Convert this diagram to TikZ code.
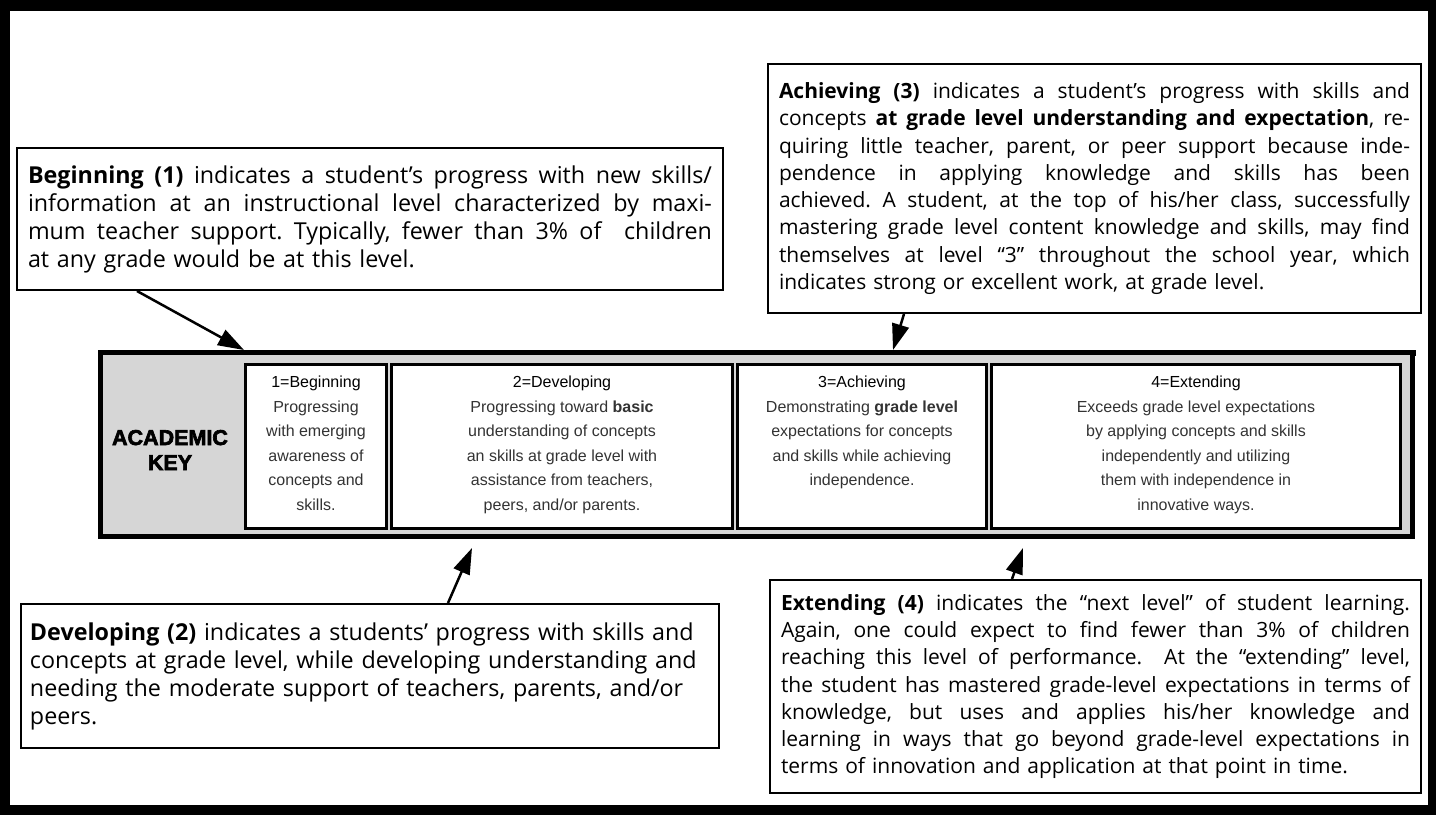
\documentclass[tikz,border=0pt]{standalone}
\usepackage{fontspec}
\setmainfont{Open Sans}
\newfontfamily\widefont{Open Sans}
\newfontfamily\narrowfont{Open Sans}
\newfontfamily\cellfont{Liberation Sans}
\newfontfamily\keyfont{Liberation Sans Bold}[FakeBold=3]
\usetikzlibrary{arrows.meta,calc}
\frenchspacing

% one fully justified line of a callout, \jw wide
\newdimen\jw
\newcommand{\jline}[1]{\makebox[\jw][s]{\spaceskip=0pt\xspaceskip=0pt #1}\\}

\definecolor{keygray}{HTML}{D6D6D6}

\tikzset{
  callout/.style={draw=black, line width=2pt, fill=white, anchor=north west,
    inner xsep=11pt, inner ysep=0pt, align=left},
  widetext/.style={font=\widefont\fontsize{21}{27.3}\selectfont},
  narrowtext/.style={font=\narrowfont\fontsize{23.3}{28}\selectfont},
  pointer/.style={line width=2.5pt, -{Triangle[length=26pt,width=17pt]}},
  frame/.style={draw=black, line width=5pt, fill=keygray, anchor=north west, inner sep=0pt},
  cellbox/.style={draw=black, line width=3pt, fill=white, anchor=north west, inner sep=0pt},
  celltext/.style={anchor=north, align=center, inner sep=0pt, text=black!80,
    font=\cellfont\fontsize{16}{24.5}\selectfont},
  keytext/.style={align=center, inner sep=0pt, font=\keyfont\fontsize{21.5}{25}\selectfont},
}

\begin{document}
\begin{tikzpicture}[x=1pt,y=-1pt]
\useasboundingbox (0,0) rectangle (1436,815);
% outer black page frame
\fill[black] (0,0) rectangle (1436,815);
\fill[white] (10,11) rectangle (1428,805);

% ---- academic key table ----
\node[frame, minimum width=1312pt, minimum height=184pt] (tbl) at (98,350) {};
\draw[line width=1.2pt] (tbl.north east) -- ++(0,6);
\node[keytext] (key) at (170,450) {ACADEMIC\\KEY};

\node[cellbox, minimum width=141pt, minimum height=164pt] (c1) at (244,363) {};
\node[cellbox, minimum width=341pt, minimum height=164pt] (c2) at (390,363) {};
\node[cellbox, minimum width=249pt, minimum height=164pt] (c3) at (736,363) {};
\node[cellbox, minimum width=409pt, minimum height=164pt] (c4) at (990,363) {};

\node[celltext] (t1) at ([yshift=-13pt]c1.north) {\textcolor{black}{1=Beginning}\\Progressing\\with emerging\\awareness of\\concepts and\\skills.};
\node[celltext] (t2) at ([yshift=-13pt]c2.north) {\textcolor{black}{2=Developing}\\Progressing toward \textbf{basic}\\understanding of concepts\\an skills at grade level with\\assistance from teachers,\\peers, and/or parents.};
\node[celltext] (t3) at ([yshift=-13pt]c3.north) {\textcolor{black}{3=Achieving}\\Demonstrating \textbf{grade level}\\expectations for concepts\\and skills while achieving\\independence.};
\node[celltext] (t4) at ([yshift=-13pt]c4.north) {\textcolor{black}{4=Extending}\\Exceeds grade level expectations\\by applying concepts and skills\\independently and utilizing\\them with independence in\\innovative ways.};

% ---- callouts ----
\node[callout, narrowtext, minimum width=706pt, minimum height=142pt, text width=684pt] (beg) at (16,147) {%
\jw=684pt\relax
\jline{\textbf{Beginning (1)} indicates a student’s progress with new skills/}
\jline{information at an instructional level characterized by maxi-}
\jline{mum teacher support. Typically, fewer than 3\% of \ children}
at any grade would be at this level.};

\node[callout, widetext, minimum width=653pt, minimum height=249pt, text width=631pt] (ach) at (767,63) {%
\jw=631pt\relax
\jline{\textbf{Achieving (3)} indicates a student’s progress with skills and}
\jline{concepts \textbf{at grade level understanding and expectation}, re-}
\jline{quiring little teacher, parent, or peer support because inde-}
\jline{pendence in applying knowledge and skills has been}
\jline{achieved. A student, at the top of his/her class, successfully}
\jline{mastering grade level content knowledge and skills, may find}
\jline{themselves at level “3” throughout the school year, which}
indicates strong or excellent work, at grade level.};

\node[callout, narrowtext, minimum width=698pt, minimum height=144pt, text width=680pt, inner xsep=9pt] (dev) at (20,603) {%
\textbf{Developing (2)} indicates a students’ progress with skills and\\
concepts at grade level, while developing understanding and\\
needing the moderate support of teachers, parents, and/or\\
peers.};

\node[callout, widetext, minimum width=651pt, minimum height=213pt, text width=629pt] (ext) at (769,579) {%
\jw=629pt\relax
\jline{\textbf{Extending (4)} indicates the “next level” of student learning.}
\jline{Again, one could expect to find fewer than 3\% of children}
\jline{reaching this level of performance. \ At the “extending” level,}
\jline{the student has mastered grade-level expectations in terms of}
\jline{knowledge, but uses and applies his/her knowledge and}
\jline{learning in ways that go beyond grade-level expectations in}
terms of innovation and application at that point in time.};

% ---- pointers from callouts to the key ----
\draw[pointer] ([xshift=121pt]beg.south west) -- ([xshift=146pt]tbl.north west);
\draw[pointer] ([xshift=137pt]ach.south west) -- ([xshift=795pt]tbl.north west);
\draw[pointer] ([xshift=428pt]dev.north west) -- ([xshift=374pt,yshift=-9pt]tbl.south west);
\draw[pointer] ([xshift=243pt]ext.north west) -- ([xshift=925pt,yshift=-9pt]tbl.south west);
\end{tikzpicture}
\end{document}
